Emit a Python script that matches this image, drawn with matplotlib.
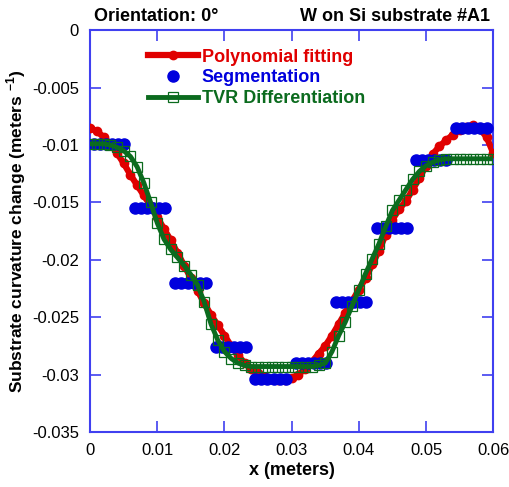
import numpy as np
import matplotlib
matplotlib.use("Agg")
import matplotlib.pyplot as plt

plt.rcParams['font.family'] = ['Liberation Sans', 'DejaVu Sans']
plt.rcParams['mathtext.fontset'] = 'custom'
plt.rcParams['mathtext.rm'] = 'Liberation Sans'
plt.rcParams['mathtext.bf'] = 'Liberation Sans:bold'

# polynomial fitting and TVR differentiation share the same x grid
x_fit = [0.000, 0.001, 0.002, 0.003, 0.004, 0.005, 0.006, 0.007, 0.008, 0.009,
         0.010, 0.011, 0.012, 0.013, 0.014, 0.015, 0.016, 0.017, 0.018, 0.019,
         0.020, 0.021, 0.022, 0.023, 0.024, 0.025, 0.026, 0.027, 0.028, 0.029,
         0.030, 0.031, 0.032, 0.033, 0.034, 0.035, 0.036, 0.037, 0.038, 0.039,
         0.040, 0.041, 0.042, 0.043, 0.044, 0.045, 0.046, 0.047, 0.048, 0.049,
         0.050, 0.051, 0.052, 0.053, 0.054, 0.055, 0.056, 0.057, 0.058, 0.059,
         0.060]

poly = [-0.0085, -0.0088, -0.0093, -0.0099, -0.0107, -0.0116, -0.0126, -0.0135, -0.0144, -0.0153,
        -0.0163, -0.0173, -0.0183, -0.0194, -0.0205, -0.0216, -0.0227, -0.0238, -0.0248, -0.0257,
        -0.0266, -0.0275, -0.0283, -0.0290, -0.0295, -0.0299, -0.0302, -0.0304, -0.0305, -0.0305,
        -0.0303, -0.0300, -0.0295, -0.0289, -0.0282, -0.0275, -0.0266, -0.0256, -0.0246, -0.0236,
        -0.0226, -0.0216, -0.0204, -0.0192, -0.0178, -0.0165, -0.0156, -0.0149, -0.0139, -0.0129,
        -0.0118, -0.0108, -0.0101, -0.0096, -0.0091, -0.0087, -0.0084, -0.0083, -0.0086, -0.0093,
        -0.0107]

tvr = [-0.0099, -0.0099, -0.0099, -0.0100, -0.0102, -0.0105, -0.0110, -0.0119, -0.0133, -0.0150,
       -0.0168, -0.0182, -0.0191, -0.0198, -0.0205, -0.0213, -0.0222, -0.0237, -0.0256, -0.0270,
       -0.0280, -0.0286, -0.0290, -0.0292, -0.0293, -0.0293, -0.0293, -0.0293, -0.0293, -0.0293,
       -0.0293, -0.0293, -0.0293, -0.0293, -0.0292, -0.0290, -0.0280, -0.0266, -0.0254, -0.0240,
       -0.0226, -0.0212, -0.0199, -0.0186, -0.0171, -0.0157, -0.0148, -0.0139, -0.0130, -0.0123,
       -0.0118, -0.0115, -0.0113, -0.0112, -0.0112, -0.0112, -0.0112, -0.0112, -0.0112, -0.0112,
       -0.0112]

# segmentation: 10 segments of 6 points
x_seg = [0.0006, 0.0015, 0.0024, 0.0033, 0.0042, 0.0051,
         0.0067, 0.0076, 0.0085, 0.0094, 0.0103, 0.0112,
         0.0127, 0.0136, 0.0145, 0.0154, 0.0163, 0.0172,
         0.0187, 0.0196, 0.0205, 0.0214, 0.0223, 0.0232,
         0.0246, 0.0255, 0.0264, 0.0273, 0.0282, 0.0291,
         0.0306, 0.0315, 0.0324, 0.0333, 0.0342, 0.0351,
         0.0366, 0.0375, 0.0384, 0.0393, 0.0402, 0.0411,
         0.0427, 0.0436, 0.0445, 0.0454, 0.0463, 0.0472,
         0.0485, 0.0494, 0.0503, 0.0512, 0.0521, 0.0530,
         0.0545, 0.0554, 0.0563, 0.0572, 0.0581, 0.0590]
seg_levels = [-0.0099, -0.0155, -0.0220, -0.0276, -0.0304,
              -0.0290, -0.0237, -0.0172, -0.0113, -0.0085]
seg = [v for v in seg_levels for _ in range(6)]

xticks = [0, 0.01, 0.02, 0.03, 0.04, 0.05, 0.06]
xticklabels = ['0', '0.01', '0.02', '0.03', '0.04', '0.05', '0.06']
yticks = [0, -0.005, -0.01, -0.015, -0.02, -0.025, -0.03, -0.035]
yticklabels = ['0', '-0.005', '-0.01', '-0.015', '-0.02', '-0.025', '-0.03', '-0.035']

red = '#e00000'
blue = '#0000dd'
green = '#0b6b1e'
axcol = '#4040f0'

fig = plt.figure(figsize=(5.09, 4.87), dpi=100)
ax = fig.add_axes([0.177, 0.113, 0.792, 0.825])

ax.plot(x_fit, poly, color=red, lw=4.5, marker='o', ms=6, mec=red, mfc=red,
        label='Polynomial fitting', zorder=3)
ax.plot(x_seg, seg, ls='none', marker='o', ms=8, color=blue,
        label='Segmentation', zorder=4)
ax.plot(x_fit, tvr, color=green, lw=3.5, marker='s', ms=7, mfc='none', mec=green,
        mew=0.9, label='TVR Differentiation', zorder=5)

ax.set_xlim(0, 0.06)
ax.set_ylim(-0.035, 0)
ax.set_xticks(xticks)
ax.set_xticklabels(xticklabels)
ax.set_yticks(yticks)
ax.set_yticklabels(yticklabels)
ax.tick_params(direction='in', length=8, width=1.2, color=axcol, labelsize=12,
               top=True, right=True)
ax.tick_params(axis='x', pad=8)
ax.tick_params(axis='y', pad=8)
for s in ax.spines.values():
    s.set_color(axcol)
    s.set_linewidth(1.5)

ax.set_xlabel('x (meters)', fontsize=13, fontweight='bold')
ax.xaxis.set_label_coords(0.5, -0.074)
ax.set_ylabel(r'Substrate curvature change (meters $^{\mathbf{-1}}$)',
              fontsize=12.5, fontweight='bold')
ax.yaxis.set_label_coords(-0.153, 0.5)

fig.text(0.185, 0.967, 'Orientation: 0°', fontsize=13,
         fontweight='bold', ha='left', va='center')
fig.text(0.963, 0.967, 'W on Si substrate #A1', fontsize=13,
         fontweight='bold', ha='right', va='center')

leg = ax.legend(loc='upper left', bbox_to_anchor=(0.125, 0.972), frameon=False,
                fontsize=13, handlelength=2.8, handletextpad=0.2,
                labelspacing=0.2, borderaxespad=0, numpoints=1)
for t, c in zip(leg.get_texts(), [red, blue, green]):
    t.set_color(c)
    t.set_fontweight('bold')

fig.savefig('out.png', dpi=100)
